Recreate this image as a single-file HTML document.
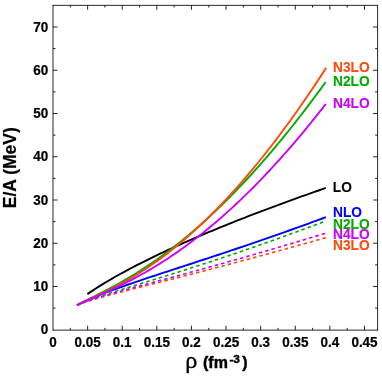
<!DOCTYPE html><html><head><meta charset="utf-8"><style>html,body{margin:0;padding:0;background:#fff}svg{display:block;will-change:transform}text{font-family:"Liberation Sans",sans-serif;font-weight:bold;stroke-linejoin:round}</style></head><body>
<svg width="382" height="377" viewBox="0 0 382 377">
<rect width="382" height="377" fill="#fff"/>
<path d="M87.40 294.09 L91.44 291.35 L95.48 288.70 L99.52 286.14 L103.56 283.65 L107.60 281.22 L111.64 278.86 L115.68 276.55 L119.73 274.28 L123.77 272.07 L127.81 269.89 L131.85 267.76 L135.89 265.66 L139.93 263.59 L143.97 261.55 L148.01 259.55 L152.05 257.57 L156.09 255.62 L160.13 253.70 L164.17 251.80 L168.21 249.92 L172.25 248.06 L176.29 246.23 L180.34 244.41 L184.38 242.62 L188.42 240.84 L192.46 239.08 L196.50 237.34 L200.54 235.61 L204.58 233.90 L208.62 232.20 L212.66 230.52 L216.70 228.86 L220.74 227.20 L224.78 225.56 L228.82 223.94 L232.86 222.32 L236.91 220.72 L240.95 219.13 L244.99 217.55 L249.03 215.98 L253.07 214.42 L257.11 212.87 L261.15 211.33 L265.19 209.81 L269.23 208.29 L273.27 206.78 L277.31 205.28 L281.35 203.79 L285.39 202.31 L289.43 200.84 L293.47 199.37 L297.52 197.91 L301.56 196.47 L305.60 195.03 L309.64 193.59 L313.68 192.17 L317.72 190.75 L321.76 189.34 L325.80 187.93" fill="none" stroke="#000000" stroke-width="1.9"/>
<path d="M77.00 305.30 L80.61 303.43 L84.21 301.68 L87.82 300.02 L91.43 298.43 L95.04 296.90 L98.64 295.42 L102.25 293.99 L105.86 292.60 L109.47 291.23 L113.07 289.90 L116.68 288.59 L120.29 287.30 L123.89 286.03 L127.50 284.77 L131.11 283.53 L134.72 282.30 L138.32 281.08 L141.93 279.86 L145.54 278.66 L149.14 277.46 L152.75 276.27 L156.36 275.08 L159.97 273.90 L163.57 272.72 L167.18 271.54 L170.79 270.36 L174.40 269.18 L178.00 268.01 L181.61 266.83 L185.22 265.65 L188.82 264.48 L192.43 263.30 L196.04 262.12 L199.65 260.94 L203.25 259.76 L206.86 258.57 L210.47 257.38 L214.08 256.19 L217.68 255.00 L221.29 253.80 L224.90 252.60 L228.50 251.40 L232.11 250.19 L235.72 248.98 L239.33 247.76 L242.93 246.54 L246.54 245.32 L250.15 244.09 L253.76 242.86 L257.36 241.62 L260.97 240.38 L264.58 239.13 L268.18 237.88 L271.79 236.63 L275.40 235.37 L279.01 234.10 L282.61 232.83 L286.22 231.55 L289.83 230.27 L293.43 228.99 L297.04 227.70 L300.65 226.40 L304.26 225.10 L307.86 223.79 L311.47 222.48 L315.08 221.16 L318.69 219.83 L322.29 218.50 L325.90 217.17" fill="none" stroke="#0000ff" stroke-width="1.9"/>
<path d="M77.00 305.16 L80.60 303.28 L84.21 301.45 L87.81 299.64 L91.42 297.84 L95.02 296.04 L98.63 294.22 L102.23 292.38 L105.83 290.52 L109.44 288.62 L113.04 286.69 L116.65 284.72 L120.25 282.71 L123.86 280.65 L127.46 278.55 L131.07 276.40 L134.67 274.20 L138.27 271.96 L141.88 269.66 L145.48 267.31 L149.09 264.91 L152.69 262.45 L156.30 259.95 L159.90 257.39 L163.50 254.77 L167.11 252.11 L170.71 249.39 L174.32 246.61 L177.92 243.78 L181.53 240.90 L185.13 237.96 L188.73 234.97 L192.34 231.92 L195.94 228.82 L199.55 225.67 L203.15 222.46 L206.76 219.19 L210.36 215.88 L213.97 212.51 L217.57 209.08 L221.17 205.60 L224.78 202.07 L228.38 198.48 L231.99 194.85 L235.59 191.15 L239.20 187.41 L242.80 183.61 L246.40 179.76 L250.01 175.86 L253.61 171.90 L257.22 167.89 L260.82 163.83 L264.43 159.72 L268.03 155.55 L271.63 151.34 L275.24 147.07 L278.84 142.75 L282.45 138.38 L286.05 133.96 L289.66 129.49 L293.26 124.97 L296.87 120.39 L300.47 115.77 L304.07 111.10 L307.68 106.37 L311.28 101.60 L314.89 96.77 L318.49 91.90 L322.10 86.98 L325.70 82.00" fill="none" stroke="#00aa00" stroke-width="1.9"/>
<path d="M77.00 305.21 L80.61 303.64 L84.21 302.17 L87.82 300.77 L91.43 299.44 L95.04 298.16 L98.64 296.92 L102.25 295.71 L105.86 294.52 L109.47 293.35 L113.07 292.21 L116.68 291.07 L120.29 289.95 L123.89 288.83 L127.50 287.72 L131.11 286.61 L134.72 285.50 L138.32 284.40 L141.93 283.30 L145.54 282.20 L149.14 281.09 L152.75 279.99 L156.36 278.88 L159.97 277.77 L163.57 276.65 L167.18 275.53 L170.79 274.41 L174.40 273.28 L178.00 272.15 L181.61 271.01 L185.22 269.87 L188.82 268.72 L192.43 267.57 L196.04 266.41 L199.65 265.25 L203.25 264.08 L206.86 262.90 L210.47 261.72 L214.08 260.53 L217.68 259.34 L221.29 258.14 L224.90 256.94 L228.50 255.72 L232.11 254.51 L235.72 253.29 L239.33 252.06 L242.93 250.82 L246.54 249.58 L250.15 248.34 L253.76 247.09 L257.36 245.83 L260.97 244.56 L264.58 243.30 L268.18 242.02 L271.79 240.74 L275.40 239.46 L279.01 238.17 L282.61 236.87 L286.22 235.57 L289.83 234.26 L293.43 232.95 L297.04 231.63 L300.65 230.31 L304.26 228.98 L307.86 227.65 L311.47 226.31 L315.08 224.97 L318.69 223.62 L322.29 222.26 L325.90 220.91" fill="none" stroke="#00aa00" stroke-width="1.6" stroke-dasharray="3.5 3.05" stroke-dashoffset="5.53"/>
<path d="M77.00 305.10 L80.61 303.37 L84.22 301.69 L87.83 300.04 L91.45 298.39 L95.06 296.73 L98.67 295.04 L102.28 293.33 L105.89 291.58 L109.50 289.80 L113.12 287.96 L116.73 286.08 L120.34 284.14 L123.95 282.14 L127.56 280.09 L131.17 277.99 L134.79 275.82 L138.40 273.59 L142.01 271.29 L145.62 268.94 L149.23 266.52 L152.84 264.03 L156.46 261.48 L160.07 258.87 L163.68 256.19 L167.29 253.44 L170.90 250.62 L174.51 247.74 L178.12 244.80 L181.74 241.78 L185.35 238.70 L188.96 235.56 L192.57 232.35 L196.18 229.07 L199.79 225.72 L203.41 222.31 L207.02 218.83 L210.63 215.28 L214.24 211.67 L217.85 207.99 L221.46 204.25 L225.08 200.44 L228.69 196.57 L232.30 192.63 L235.91 188.62 L239.52 184.55 L243.13 180.42 L246.74 176.22 L250.36 171.95 L253.97 167.62 L257.58 163.23 L261.19 158.77 L264.80 154.25 L268.41 149.67 L272.03 145.02 L275.64 140.31 L279.25 135.53 L282.86 130.69 L286.47 125.79 L290.08 120.83 L293.70 115.80 L297.31 110.72 L300.92 105.57 L304.53 100.36 L308.14 95.08 L311.75 89.75 L315.37 84.35 L318.98 78.89 L322.59 73.38 L326.20 67.80" fill="none" stroke="#ff4a0a" stroke-width="1.9"/>
<path d="M77.00 305.20 L80.61 303.81 L84.21 302.52 L87.82 301.32 L91.43 300.18 L95.04 299.09 L98.64 298.04 L102.25 297.02 L105.86 296.03 L109.47 295.05 L113.07 294.10 L116.68 293.15 L120.29 292.22 L123.89 291.30 L127.50 290.38 L131.11 289.46 L134.72 288.55 L138.32 287.65 L141.93 286.74 L145.54 285.84 L149.14 284.93 L152.75 284.02 L156.36 283.12 L159.97 282.21 L163.57 281.30 L167.18 280.38 L170.79 279.47 L174.40 278.55 L178.00 277.63 L181.61 276.71 L185.22 275.78 L188.82 274.86 L192.43 273.92 L196.04 272.99 L199.65 272.05 L203.25 271.11 L206.86 270.17 L210.47 269.22 L214.08 268.27 L217.68 267.32 L221.29 266.36 L224.90 265.40 L228.50 264.44 L232.11 263.48 L235.72 262.51 L239.33 261.54 L242.93 260.57 L246.54 259.60 L250.15 258.62 L253.76 257.64 L257.36 256.66 L260.97 255.67 L264.58 254.69 L268.18 253.70 L271.79 252.71 L275.40 251.72 L279.01 250.73 L282.61 249.73 L286.22 248.73 L289.83 247.74 L293.43 246.74 L297.04 245.74 L300.65 244.73 L304.26 243.73 L307.86 242.73 L311.47 241.72 L315.08 240.71 L318.69 239.71 L322.29 238.70 L325.90 237.69" fill="none" stroke="#ff4a0a" stroke-width="1.6" stroke-dasharray="3.5 3.05" stroke-dashoffset="1.0"/>
<path d="M77.00 305.18 L80.61 303.46 L84.21 301.81 L87.82 300.20 L91.42 298.61 L95.03 297.03 L98.63 295.45 L102.24 293.86 L105.85 292.25 L109.45 290.61 L113.06 288.95 L116.66 287.25 L120.27 285.52 L123.88 283.75 L127.48 281.94 L131.09 280.08 L134.69 278.18 L138.30 276.24 L141.90 274.25 L145.51 272.21 L149.12 270.13 L152.72 267.99 L156.33 265.81 L159.93 263.57 L163.54 261.28 L167.14 258.94 L170.75 256.55 L174.36 254.11 L177.96 251.62 L181.57 249.07 L185.17 246.47 L188.78 243.81 L192.39 241.11 L195.99 238.35 L199.60 235.53 L203.20 232.67 L206.81 229.75 L210.41 226.78 L214.02 223.75 L217.63 220.67 L221.23 217.54 L224.84 214.35 L228.44 211.12 L232.05 207.83 L235.66 204.48 L239.26 201.08 L242.87 197.63 L246.47 194.13 L250.08 190.58 L253.68 186.97 L257.29 183.31 L260.90 179.60 L264.50 175.83 L268.11 172.02 L271.71 168.15 L275.32 164.23 L278.92 160.26 L282.53 156.23 L286.14 152.16 L289.74 148.03 L293.35 143.85 L296.95 139.63 L300.56 135.35 L304.17 131.02 L307.77 126.63 L311.38 122.20 L314.98 117.72 L318.59 113.19 L322.19 108.60 L325.80 103.97" fill="none" stroke="#cc00ff" stroke-width="1.9"/>
<path d="M77.00 305.20 L80.61 303.72 L84.21 302.34 L87.82 301.04 L91.43 299.82 L95.04 298.64 L98.64 297.50 L102.25 296.40 L105.86 295.33 L109.47 294.28 L113.07 293.25 L116.68 292.23 L120.29 291.23 L123.89 290.24 L127.50 289.25 L131.11 288.27 L134.72 287.30 L138.32 286.33 L141.93 285.36 L145.54 284.40 L149.14 283.43 L152.75 282.47 L156.36 281.50 L159.97 280.54 L163.57 279.57 L167.18 278.61 L170.79 277.64 L174.40 276.67 L178.00 275.70 L181.61 274.72 L185.22 273.74 L188.82 272.76 L192.43 271.78 L196.04 270.79 L199.65 269.80 L203.25 268.81 L206.86 267.81 L210.47 266.81 L214.08 265.81 L217.68 264.80 L221.29 263.79 L224.90 262.78 L228.50 261.76 L232.11 260.74 L235.72 259.72 L239.33 258.69 L242.93 257.66 L246.54 256.63 L250.15 255.60 L253.76 254.56 L257.36 253.52 L260.97 252.47 L264.58 251.42 L268.18 250.37 L271.79 249.32 L275.40 248.26 L279.01 247.20 L282.61 246.14 L286.22 245.07 L289.83 244.01 L293.43 242.94 L297.04 241.86 L300.65 240.79 L304.26 239.71 L307.86 238.63 L311.47 237.55 L315.08 236.47 L318.69 235.38 L322.29 234.29 L325.90 233.20" fill="none" stroke="#cc00ff" stroke-width="1.6" stroke-dasharray="3.5 3.05" stroke-dashoffset="0.71"/>
<g stroke="#000" stroke-width="0.85" fill="none" shape-rendering="auto">
<path d="M53.00 4.95V330.50M377.60 4.95V330.50M52.60 5.35H378.00M52.60 330.10H378.00"/>
<path d="M70.31 330.10v-2.2M70.31 5.35v2.2M87.61 330.10v-4.4M87.61 5.35v4.4M104.92 330.10v-2.2M104.92 5.35v2.2M122.22 330.10v-4.4M122.22 5.35v4.4M139.53 330.10v-2.2M139.53 5.35v2.2M156.83 330.10v-4.4M156.83 5.35v4.4M174.14 330.10v-2.2M174.14 5.35v2.2M191.44 330.10v-4.4M191.44 5.35v4.4M208.75 330.10v-2.2M208.75 5.35v2.2M226.05 330.10v-4.4M226.05 5.35v4.4M243.36 330.10v-2.2M243.36 5.35v2.2M260.66 330.10v-4.4M260.66 5.35v4.4M277.97 330.10v-2.2M277.97 5.35v2.2M295.27 330.10v-4.4M295.27 5.35v4.4M312.58 330.10v-2.2M312.58 5.35v2.2M329.88 330.10v-4.4M329.88 5.35v4.4M347.19 330.10v-2.2M347.19 5.35v2.2M364.49 330.10v-4.4M364.49 5.35v4.4M53.00 308.12h2.5M377.60 308.12h-2.5M53.00 286.50h4.5M377.60 286.50h-4.5M53.00 264.88h2.5M377.60 264.88h-2.5M53.00 243.25h4.5M377.60 243.25h-4.5M53.00 221.62h2.5M377.60 221.62h-2.5M53.00 200.00h4.5M377.60 200.00h-4.5M53.00 178.38h2.5M377.60 178.38h-2.5M53.00 156.75h4.5M377.60 156.75h-4.5M53.00 135.12h2.5M377.60 135.12h-2.5M53.00 113.50h4.5M377.60 113.50h-4.5M53.00 91.88h2.5M377.60 91.88h-2.5M53.00 70.25h4.5M377.60 70.25h-4.5M53.00 48.62h2.5M377.60 48.62h-2.5M53.00 27.00h4.5M377.60 27.00h-4.5"/>
</g>
<g font-size="14.8" fill="#000" stroke="#000" stroke-width="0.25">
<text transform="translate(48.2,334.4) scale(0.91,1)" text-anchor="end">0</text>
<text transform="translate(48.2,291.1) scale(0.91,1)" text-anchor="end">10</text>
<text transform="translate(48.2,247.8) scale(0.91,1)" text-anchor="end">20</text>
<text transform="translate(48.2,204.6) scale(0.91,1)" text-anchor="end">30</text>
<text transform="translate(48.2,161.3) scale(0.91,1)" text-anchor="end">40</text>
<text transform="translate(48.2,118.1) scale(0.91,1)" text-anchor="end">50</text>
<text transform="translate(48.2,74.8) scale(0.91,1)" text-anchor="end">60</text>
<text transform="translate(48.2,31.6) scale(0.91,1)" text-anchor="end">70</text>
<text transform="translate(53.0,347.1) scale(0.91,1)" text-anchor="middle">0</text>
<text transform="translate(87.6,347.1) scale(0.91,1)" text-anchor="middle">0.05</text>
<text transform="translate(122.2,347.1) scale(0.91,1)" text-anchor="middle">0.1</text>
<text transform="translate(156.8,347.1) scale(0.91,1)" text-anchor="middle">0.15</text>
<text transform="translate(191.4,347.1) scale(0.91,1)" text-anchor="middle">0.2</text>
<text transform="translate(226.1,347.1) scale(0.91,1)" text-anchor="middle">0.25</text>
<text transform="translate(260.7,347.1) scale(0.91,1)" text-anchor="middle">0.3</text>
<text transform="translate(295.3,347.1) scale(0.91,1)" text-anchor="middle">0.35</text>
<text transform="translate(329.9,347.1) scale(0.91,1)" text-anchor="middle">0.4</text>
<text transform="translate(364.5,347.1) scale(0.91,1)" text-anchor="middle">0.45</text>
</g>
<g font-size="15" stroke-width="0.1">
<text transform="translate(333.0,71.5) scale(0.915,1)" fill="#ff4a0a" stroke="#ff4a0a">N3LO</text>
<text transform="translate(333.0,85.8) scale(0.915,1)" fill="#00aa00" stroke="#00aa00">N2LO</text>
<text transform="translate(333.0,108.0) scale(0.915,1)" fill="#cc00ff" stroke="#cc00ff">N4LO</text>
<text transform="translate(332.8,191.5) scale(0.915,1)" fill="#000000" stroke="#000000">LO</text>
<text transform="translate(333.0,217.3) scale(0.915,1)" fill="#0000ff" stroke="#0000ff">NLO</text>
<text transform="translate(333.0,228.5) scale(0.915,1)" fill="#00aa00" stroke="#00aa00">N2LO</text>
<text transform="translate(333.0,239.2) scale(0.915,1)" fill="#cc00ff" stroke="#cc00ff">N4LO</text>
<text transform="translate(333.0,249.5) scale(0.915,1)" fill="#ff4a0a" stroke="#ff4a0a">N3LO</text>
</g>
<text transform="translate(15.5,208.2) rotate(-90)" font-size="17.5" fill="#000" stroke="#000" stroke-width="0.2">E/A (MeV)</text>
<text transform="translate(185.3,368.2) scale(1.08,1.05)" font-size="22.5" fill="#000" stroke="#000" style="font-family:'Liberation Serif',serif;font-weight:normal;stroke-width:0.3px">ρ</text>
<text x="203" y="368.4" font-size="16" fill="#000" stroke="#000" stroke-width="0.45">(fm<tspan dy="-5.7" dx="1.5" font-size="11.8">-3</tspan><tspan dy="5.7" dx="2.3">)</tspan></text>
</svg></body></html>
